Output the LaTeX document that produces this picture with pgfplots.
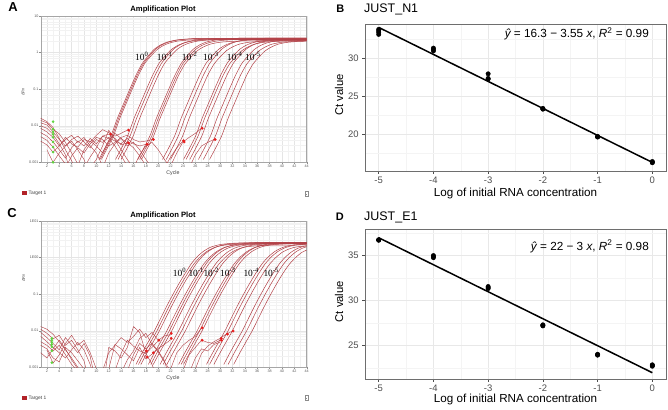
\documentclass[border=0pt]{standalone}
\usepackage{pgfplots}
\pgfplotsset{compat=1.18}
\usepackage{fontspec}
\setmainfont{Liberation Sans}
\newfontfamily\seriffont{Liberation Serif}
\definecolor{ampred}{RGB}{178,64,70}
\definecolor{mred}{RGB}{232,28,28}
\definecolor{mgreen}{RGB}{92,212,60}
\definecolor{legred}{RGB}{178,34,40}
\definecolor{ggborder}{RGB}{110,110,110}
\definecolor{gggrid}{RGB}{232,232,232}
\definecolor{ggminor}{RGB}{244,244,244}
\definecolor{ggtick}{RGB}{77,77,77}
\tikzset{
  amp/.style={draw=ampred, line width=0.5bp, smooth, tension=0.4},
  noise/.style={draw=ampred, line width=0.42bp},
}
\begin{document}
\begin{tikzpicture}
\useasboundingbox (0bp,0bp) rectangle (668bp,410bp);
%================ Panel A =================
\begin{axis}[ymode=log, at={(40.7bp,247.7bp)}, anchor=south west,
    scale only axis, width=266bp, height=146.3bp,
    xmin=1, xmax=44, ymin=0.001, ymax=10,
    xtick={2,4,...,44}, minor xtick={1,3,...,43},
    ytick={0.001,0.01,0.1,1,10}, yticklabels={0.001,0.01,0.1,1,10},
    minor ytick={0.002,0.003,0.004,0.005,0.006,0.007,0.008,0.009,0.02,0.03,0.04,0.05,0.06,0.07,0.08,0.09,0.2,0.3,0.4,0.5,0.6,0.7,0.8,0.9,2,3,4,5,6,7,8,9},
    grid=both, major grid style={black!10, line width=0.35bp},
    minor grid style={black!5, line width=0.3bp},
    axis line style={black!35, line width=0.4bp},
    major tick length=1.3bp, minor tick length=0bp, tick align=outside, tick pos=left,
    tick style={black!45, line width=0.3bp},
    tick label style={font=\fontsize{3.7}{4}\selectfont, text=black!65, inner sep=0.8bp},
    /pgf/number format/assume math mode=true, no markers]
% noise
\addplot[noise] coordinates {(1,0.016)(2,0.013)(3,0.009)(4,0.0045)(5,0.0022)(6,0.0011)(6.5,0.0007)};
\addplot[noise] coordinates {(1,0.014)(2,0.012)(3,0.008)(4,0.006)(5,0.0035)(6,0.0018)(7,0.0009)(7.4,0.0007)};
\addplot[noise] coordinates {(1,0.012)(2,0.0105)(3,0.0068)(4,0.0042)(5,0.0028)(6,0.0038)(7,0.0022)(8,0.0012)(8.5,0.0007)};
\addplot[noise] coordinates {(1,0.010)(2,0.0085)(3,0.0058)(4,0.0032)(5,0.0016)(5.6,0.0007)};
\addplot[noise] coordinates {(1,0.0085)(2,0.0068)(3,0.0048)(4,0.0028)(5,0.0042)(6,0.0055)(7,0.0035)(8,0.0048)(9,0.0028)(10,0.0018)(11,0.0008)};
\addplot[noise] coordinates {(1,0.0065)(2,0.0052)(3,0.0036)(4,0.0022)(5,0.0013)(6,0.0025)(7,0.0038)(8,0.0028)(9,0.0045)(10,0.0032)(11,0.0052)(12,0.0059)(13,0.0045)(14,0.003)(15,0.0034)};
\addplot[noise] coordinates {(1,0.005)(2,0.004)(3,0.0026)(4,0.0015)(5,0.0009)(5.5,0.0007)};
\addplot[noise] coordinates {(1,0.0038)(2,0.003)(3,0.0019)(4,0.0028)(5,0.0048)(6,0.0032)(7,0.0026)(8,0.0042)(9,0.0036)(10,0.0055)(11,0.0078)(12,0.0065)(13,0.0052)(14,0.0062)(15,0.0076)};
\addplot[noise] coordinates {(2,0.0022)(3,0.001)(4,0.0018)(5,0.0028)(6,0.0042)(7,0.0052)(8,0.0036)(9,0.0025)(10,0.0042)(11,0.0035)(12,0.0048)(13,0.0038)(14,0.0032)(15,0.0045)(16,0.0032)(17,0.0028)(18,0.0031)};
\addplot[noise] coordinates {(5,0.0007)(6,0.0015)(7,0.0025)(8,0.0018)(9,0.0032)(10,0.0048)(11,0.0042)(12,0.0028)(13,0.0035)(14,0.0048)(15,0.0055)(16,0.0042)(17,0.0036)(18,0.0038)(19,0.0042)};
\addplot[noise] coordinates {(7,0.0008)(8,0.0022)(9,0.0038)(10,0.0028)(11,0.0018)(12,0.0038)(13,0.0062)(14,0.0045)(15,0.0034)(16,0.0025)(17,0.0015)(18,0.0008)};
\addplot[noise] coordinates {(8,0.0007)(9,0.0014)(10,0.0025)(11,0.0052)(12,0.0045)(13,0.0028)(14,0.0015)(15,0.0008)};
\addplot[noise] coordinates {(9,0.0007)(10,0.0012)(11,0.0028)(12,0.0075)(13,0.0042)(14,0.0022)(15,0.0012)(16,0.0007)};
\addplot[noise] coordinates {(11,0.0007)(12,0.0018)(13,0.0032)(14,0.0045)(15,0.0028)(16,0.0035)(17,0.0022)(18,0.0012)(19,0.0007)};
\addplot[noise] coordinates {(16,0.0007)(17,0.0016)(18,0.0028)(19,0.0035)(20,0.0022)(21,0.0012)(22,0.0007)};
\addplot[noise] coordinates {(21,0.0007)(22,0.0014)(23,0.0025)(24,0.0038)};
\addplot[noise] coordinates {(22,0.0008)(23,0.0018)(24,0.0036)(25,0.0048)(26,0.0062)(27,0.0085)};
\addplot[noise] coordinates {(25,0.0007)(26,0.0016)(27,0.0028)(28,0.0035)(29,0.0042)};
% amplification curves
\addplot[amp] coordinates {(10.4,0.0012)(11.4,0.0025)(12.4,0.0055)(13.4,0.016)(14.4,0.04)(15.4,0.1)(16.4,0.24)(17.4,0.5)(18.4,0.82)(19.4,1.25)(20.4,1.62)(21.4,1.92)(22.9,2.2)(24.9,2.36)(27.9,2.45)(44,2.48)};
\addplot[amp] coordinates {(10.6,0.0012)(11.6,0.0025)(12.6,0.0055)(13.6,0.016)(14.6,0.04)(15.6,0.1)(16.6,0.24)(17.6,0.5)(18.6,0.82)(19.6,1.25)(20.6,1.62)(21.6,1.92)(23.1,2.2)(25.1,2.36)(28.1,2.45)(44,2.48)};
\addplot[amp] coordinates {(10.8,0.0012)(11.8,0.0025)(12.8,0.0055)(13.8,0.016)(14.8,0.04)(15.8,0.1)(16.8,0.24)(17.8,0.5)(18.8,0.8)(19.8,1.2)(20.8,1.55)(21.8,1.82)(23.3,2.08)(25.3,2.22)(28.3,2.3)(44,2.33)};
\addplot[amp] coordinates {(13.1,0.0012)(14.1,0.0025)(15.1,0.0055)(16.1,0.016)(17.1,0.04)(18.1,0.1)(19.1,0.24)(20.1,0.5)(21.1,0.8)(22.1,1.2)(23.1,1.55)(24.1,1.82)(25.6,2.08)(27.6,2.22)(30.6,2.3)(44,2.32)};
\addplot[amp] coordinates {(13.5,0.0012)(14.5,0.0025)(15.5,0.0055)(16.5,0.016)(17.5,0.04)(18.5,0.1)(19.5,0.24)(20.5,0.5)(21.5,0.82)(22.5,1.25)(23.5,1.62)(24.5,1.92)(26,2.2)(28,2.36)(31,2.45)(44,2.47)};
\addplot[amp] coordinates {(14,0.0012)(15,0.0025)(16,0.0055)(17,0.016)(18,0.04)(19,0.1)(20,0.24)(21,0.5)(22,0.8)(23,1.2)(24,1.55)(25,1.82)(26.5,2.08)(28.5,2.22)(31.5,2.3)(44,2.32)};
\addplot[amp] coordinates {(16.7,0.0012)(17.7,0.0025)(18.7,0.0055)(19.7,0.016)(20.7,0.04)(21.7,0.1)(22.7,0.24)(23.7,0.5)(24.7,0.82)(25.7,1.25)(26.7,1.62)(27.7,1.92)(29.2,2.2)(31.2,2.36)(34.2,2.45)(44,2.46)};
\addplot[amp] coordinates {(17,0.0012)(18,0.0025)(19,0.0055)(20,0.016)(21,0.04)(22,0.1)(23,0.24)(24,0.5)(25,0.8)(26,1.2)(27,1.55)(28,1.82)(29.5,2.08)(31.5,2.22)(34.5,2.3)(44,2.31)};
\addplot[amp] coordinates {(17.3,0.0012)(18.3,0.0025)(19.3,0.0055)(20.3,0.016)(21.3,0.04)(22.3,0.1)(23.3,0.24)(24.3,0.48)(25.3,0.76)(26.3,1.12)(27.3,1.42)(28.3,1.68)(29.8,1.9)(31.8,2.02)(34.8,2.1)(44,2.12)};
\addplot[amp] coordinates {(20.7,0.0012)(21.7,0.0025)(22.7,0.0055)(23.7,0.016)(24.7,0.04)(25.7,0.1)(26.7,0.24)(27.7,0.5)(28.7,0.8)(29.7,1.2)(30.7,1.55)(31.7,1.82)(33.2,2.08)(35.2,2.22)(38.2,2.3)(44,2.31)};
\addplot[amp] coordinates {(21.3,0.0012)(22.3,0.0025)(23.3,0.0055)(24.3,0.016)(25.3,0.04)(26.3,0.1)(27.3,0.24)(28.3,0.5)(29.3,0.82)(30.3,1.25)(31.3,1.62)(32.3,1.92)(33.8,2.2)(35.8,2.36)(38.8,2.45)(44,2.46)};
\addplot[amp] coordinates {(22,0.0012)(23,0.0025)(24,0.0055)(25,0.016)(26,0.04)(27,0.1)(28,0.24)(29,0.48)(30,0.76)(31,1.12)(32,1.42)(33,1.68)(34.5,1.9)(36.5,2.02)(39.5,2.1)(44,2.11)};
\addplot[amp] coordinates {(24.1,0.0012)(25.1,0.0025)(26.1,0.0055)(27.1,0.016)(28.1,0.04)(29.1,0.1)(30.1,0.24)(31.1,0.5)(32.1,0.8)(33.1,1.2)(34.1,1.55)(35.1,1.82)(36.6,2.08)(38.6,2.22)(41.6,2.3)(44,2.31)};
\addplot[amp] coordinates {(24.5,0.0012)(25.5,0.0025)(26.5,0.0055)(27.5,0.016)(28.5,0.04)(29.5,0.1)(30.5,0.24)(31.5,0.48)(32.5,0.76)(33.5,1.12)(34.5,1.42)(35.5,1.68)(37,1.9)(39,2.02)(42,2.1)(44,2.11)};
\addplot[amp] coordinates {(25.1,0.0012)(26.1,0.0025)(27.1,0.0055)(28.1,0.016)(29.1,0.04)(30.1,0.1)(31.1,0.24)(32.1,0.5)(33.1,0.8)(34.1,1.2)(35.1,1.55)(36.1,1.82)(37.6,2.08)(39.6,2.22)(42.6,2.3)(44,2.31)};
\addplot[amp] coordinates {(26.5,0.0012)(27.5,0.0025)(28.5,0.0055)(29.5,0.016)(30.5,0.04)(31.5,0.1)(32.5,0.24)(33.5,0.5)(34.5,0.8)(35.5,1.2)(36.5,1.55)(37.5,1.82)(39,2.08)(41,2.22)(44,2.3)};
\addplot[amp] coordinates {(27.3,0.0012)(28.3,0.0025)(29.3,0.0055)(30.3,0.016)(31.3,0.04)(32.3,0.1)(33.3,0.24)(34.3,0.48)(35.3,0.76)(36.3,1.12)(37.3,1.42)(38.3,1.68)(39.8,1.9)(41.8,2.02)(44,2.08)};
\addplot[amp] coordinates {(28.3,0.0012)(29.3,0.0025)(30.3,0.0055)(31.3,0.016)(32.3,0.04)(33.3,0.1)(34.3,0.24)(35.3,0.48)(36.3,0.76)(37.3,1.12)(38.3,1.42)(39.3,1.68)(40.8,1.9)(42.8,2.02)(44,2.05)};
% markers
\addplot[only marks, mark=square*, mark size=1.1bp, mgreen] coordinates {(3,0.0129)(3,0.0080)(3,0.0068)(3,0.0058)(3,0.0048)(3,0.0036)(3,0.0026)(3,0.0019)(3,0.001)};
\addplot[only marks, mark=square*, mark size=1.2bp, mred] coordinates {(12.3,0.0059)(15.2,0.0076)(15.2,0.0034)(18.2,0.0031)(19.2,0.0042)(24.1,0.0039)(24.2,0.0036)(27.1,0.0085)(29.2,0.0042)};
\end{axis}
%================ Panel C =================
\begin{axis}[ymode=log, at={(40.7bp,42.7bp)}, anchor=south west,
    scale only axis, width=266bp, height=146.3bp,
    xmin=1, xmax=44, ymin=0.001, ymax=10,
    xtick={2,4,...,44}, minor xtick={1,3,...,43},
    ytick={0.001,0.01,0.1,1,10}, yticklabels={0.001,0.01,0.1,1E00,1E01},
    minor ytick={0.002,0.003,0.004,0.005,0.006,0.007,0.008,0.009,0.02,0.03,0.04,0.05,0.06,0.07,0.08,0.09,0.2,0.3,0.4,0.5,0.6,0.7,0.8,0.9,2,3,4,5,6,7,8,9},
    grid=both, major grid style={black!10, line width=0.35bp},
    minor grid style={black!5, line width=0.3bp},
    axis line style={black!35, line width=0.4bp},
    major tick length=1.3bp, minor tick length=0bp, tick align=outside, tick pos=left,
    tick style={black!45, line width=0.3bp},
    tick label style={font=\fontsize{3.7}{4}\selectfont, text=black!65, inner sep=0.8bp},
    /pgf/number format/assume math mode=true, no markers]
\addplot[noise] coordinates {(1,0.013)(2,0.011)(3,0.008)(4,0.005)(5,0.003)(6,0.0018)(7,0.001)(7.5,0.0007)};
\addplot[noise] coordinates {(1,0.011)(2,0.0085)(3,0.006)(4,0.0075)(5,0.004)(6,0.0055)(7,0.003)(8,0.0015)(8.5,0.0007)};
\addplot[noise] coordinates {(1,0.009)(2,0.0065)(3,0.0045)(4,0.003)(5,0.0065)(6,0.004)(7,0.0025)(8,0.0045)(9,0.002)(9.5,0.0008)};
\addplot[noise] coordinates {(1,0.007)(2,0.005)(3,0.0035)(4,0.0025)(5,0.0018)(6,0.003)(7,0.0048)(8,0.003)(9,0.0012)(9.4,0.0007)};
\addplot[noise] coordinates {(1,0.005)(2,0.004)(3,0.0028)(4,0.004)(5,0.0022)(6,0.0012)(7,0.0008)};
\addplot[noise] coordinates {(1,0.004)(2,0.0032)(3,0.0018)(4,0.0014)(5,0.0035)(6,0.0025)(7,0.0015)(8,0.0009)};
\addplot[noise] coordinates {(2,0.003)(3,0.0013)(4,0.0022)(5,0.0045)(6,0.0075)(7,0.004)(8,0.0055)(9,0.0025)(10,0.0009)};
\addplot[noise] coordinates {(1,0.0025)(2,0.0018)(3,0.0032)(4,0.0055)(5,0.0032)(6,0.0016)(7,0.0009)};
\addplot[noise] coordinates {(11,0.0008)(12,0.0025)(13,0.004)(14,0.0065)(15,0.0048)(16,0.007)(17,0.011)(18,0.0065)(19,0.009)(20,0.0055)(21,0.0072)(22,0.0078)};
\addplot[noise] coordinates {(11.5,0.0009)(12,0.0035)(13,0.0028)(14,0.0018)(15,0.0035)(16,0.013)(17,0.009)(18,0.0024)(19,0.0035)(20,0.0053)};
\addplot[noise] coordinates {(12,0.0009)(13,0.0042)(14,0.0032)(15,0.0022)(16,0.0015)(17,0.0035)(18,0.0017)(19,0.0023)(20,0.0033)(21,0.0042)(22,0.0057)};
\addplot[noise] coordinates {(13,0.0008)(14,0.0024)(15,0.0055)(16,0.0038)(17,0.0028)(18,0.0024)(19,0.0012)(19.5,0.0007)};
\addplot[noise] coordinates {(15,0.0008)(16,0.0022)(17,0.0045)(18,0.0032)(19,0.0045)(20,0.0028)(21,0.0015)(21.5,0.0008)};
\addplot[noise] coordinates {(14,0.0007)(15,0.0016)(16,0.0028)(17,0.0062)(18,0.0085)(19,0.0042)(20,0.0026)(21,0.0014)(22,0.0008)};
\addplot[noise] coordinates {(22,0.0009)(23,0.0025)(24,0.004)(25,0.0055)(26,0.007)(27,0.012)};
\addplot[noise] coordinates {(24,0.0008)(25,0.0022)(26,0.0035)(27,0.0055)(28,0.0048)(29,0.0045)(30,0.0055)};
\addplot[noise] coordinates {(26,0.0009)(27,0.0024)(28,0.0038)(29,0.005)(30,0.0062)(31,0.0081)(32,0.0098)};
\addplot[noise] coordinates {(25,0.0007)(26,0.0018)(27,0.0032)(28,0.0028)(29,0.0042)(30,0.0048)};
% curves
\addplot[amp] coordinates {(16.4,0.0012)(17.4,0.0025)(18.4,0.005)(19.4,0.01)(20.4,0.022)(21.4,0.048)(22.4,0.1)(23.4,0.2)(24.4,0.38)(25.4,0.7)(26.4,1.1)(27.4,1.52)(28.4,1.9)(29.4,2.15)(30.4,2.32)(32.4,2.48)(35.4,2.55)(44,2.57)};
\addplot[amp] coordinates {(16.8,0.0012)(17.8,0.0025)(18.8,0.005)(19.8,0.01)(20.8,0.022)(21.8,0.048)(22.8,0.1)(23.8,0.2)(24.8,0.38)(25.8,0.68)(26.8,1.05)(27.8,1.45)(28.8,1.8)(29.8,2.05)(30.8,2.2)(32.8,2.35)(35.8,2.42)(44,2.44)};
\addplot[amp] coordinates {(17.2,0.0012)(18.2,0.0025)(19.2,0.005)(20.2,0.01)(21.2,0.022)(22.2,0.048)(23.2,0.1)(24.2,0.2)(25.2,0.38)(26.2,0.7)(27.2,1.1)(28.2,1.52)(29.2,1.9)(30.2,2.15)(31.2,2.32)(33.2,2.48)(36.2,2.55)(44,2.57)};
\addplot[amp] coordinates {(18.4,0.0012)(19.4,0.0025)(20.4,0.005)(21.4,0.01)(22.4,0.022)(23.4,0.048)(24.4,0.1)(25.4,0.2)(26.4,0.38)(27.4,0.68)(28.4,1.05)(29.4,1.45)(30.4,1.8)(31.4,2.05)(32.4,2.2)(34.4,2.35)(37.4,2.42)(44,2.44)};
\addplot[amp] coordinates {(18.8,0.0012)(19.8,0.0025)(20.8,0.005)(21.8,0.01)(22.8,0.022)(23.8,0.048)(24.8,0.1)(25.8,0.2)(26.8,0.38)(27.8,0.7)(28.8,1.1)(29.8,1.52)(30.8,1.9)(31.8,2.15)(32.8,2.32)(34.8,2.48)(37.8,2.55)(44,2.56)};
\addplot[amp] coordinates {(19.2,0.0012)(20.2,0.0025)(21.2,0.005)(22.2,0.01)(23.2,0.022)(24.2,0.048)(25.2,0.1)(26.2,0.2)(27.2,0.38)(28.2,0.68)(29.2,1.05)(30.2,1.45)(31.2,1.8)(32.2,2.05)(33.2,2.2)(35.2,2.35)(38.2,2.42)(44,2.43)};
\addplot[amp] coordinates {(20.3,0.0012)(21.3,0.0025)(22.3,0.005)(23.3,0.01)(24.3,0.022)(25.3,0.048)(26.3,0.1)(27.3,0.2)(28.3,0.38)(29.3,0.68)(30.3,1.05)(31.3,1.45)(32.3,1.8)(33.3,2.05)(34.3,2.2)(36.3,2.35)(39.3,2.42)(44,2.43)};
\addplot[amp] coordinates {(20.8,0.0012)(21.8,0.0025)(22.8,0.005)(23.8,0.01)(24.8,0.022)(25.8,0.048)(26.8,0.1)(27.8,0.2)(28.8,0.38)(29.8,0.66)(30.8,1.0)(31.8,1.38)(32.8,1.68)(33.8,1.9)(34.8,2.02)(36.8,2.15)(39.8,2.2)(44,2.21)};
\addplot[amp] coordinates {(21.4,0.0012)(22.4,0.0025)(23.4,0.005)(24.4,0.01)(25.4,0.022)(26.4,0.048)(27.4,0.1)(28.4,0.2)(29.4,0.38)(30.4,0.68)(31.4,1.05)(32.4,1.45)(33.4,1.8)(34.4,2.05)(35.4,2.2)(37.4,2.35)(40.4,2.42)(44,2.43)};
\addplot[amp] coordinates {(23.3,0.0012)(24.3,0.0025)(25.3,0.005)(26.3,0.01)(27.3,0.022)(28.3,0.048)(29.3,0.1)(30.3,0.2)(31.3,0.38)(32.3,0.68)(33.3,1.05)(34.3,1.45)(35.3,1.8)(36.3,2.05)(37.3,2.2)(39.3,2.35)(42.3,2.42)(44,2.43)};
\addplot[amp] coordinates {(23.7,0.0012)(24.7,0.0025)(25.7,0.005)(26.7,0.01)(27.7,0.022)(28.7,0.048)(29.7,0.1)(30.7,0.2)(31.7,0.38)(32.7,0.7)(33.7,1.1)(34.7,1.52)(35.7,1.9)(36.7,2.15)(37.7,2.32)(39.7,2.48)(42.7,2.55)(44,2.56)};
\addplot[amp] coordinates {(24.1,0.0012)(25.1,0.0025)(26.1,0.005)(27.1,0.01)(28.1,0.022)(29.1,0.048)(30.1,0.1)(31.1,0.2)(32.1,0.38)(33.1,0.68)(34.1,1.05)(35.1,1.45)(36.1,1.8)(37.1,2.05)(38.1,2.2)(40.1,2.35)(43.1,2.42)(44,2.42)};
\addplot[amp] coordinates {(27.8,0.0012)(28.8,0.0025)(29.8,0.005)(30.8,0.01)(31.8,0.022)(32.8,0.048)(33.8,0.1)(34.8,0.2)(35.8,0.38)(36.8,0.68)(37.8,1.05)(38.8,1.45)(39.8,1.8)(40.8,2.05)(41.8,2.2)(43.8,2.35)(44,2.35)};
\addplot[amp] coordinates {(28.3,0.0012)(29.3,0.0025)(30.3,0.005)(31.3,0.01)(32.3,0.022)(33.3,0.048)(34.3,0.1)(35.3,0.2)(36.3,0.38)(37.3,0.68)(38.3,1.05)(39.3,1.45)(40.3,1.8)(41.3,2.05)(42.3,2.2)(44,2.33)};
\addplot[amp] coordinates {(29,0.0012)(30,0.0025)(31,0.005)(32,0.01)(33,0.022)(34,0.048)(35,0.1)(36,0.2)(37,0.38)(38,0.66)(39,1.0)(40,1.38)(41,1.68)(42,1.9)(43,2.02)(44,2.08)};
\addplot[amp] coordinates {(30.6,0.0012)(31.6,0.0025)(32.6,0.005)(33.6,0.01)(34.6,0.022)(35.6,0.048)(36.6,0.1)(37.6,0.2)(38.6,0.38)(39.6,0.68)(40.6,1.05)(41.6,1.45)(42.6,1.8)(43.6,2.05)(44,2.1)};
\addplot[amp] coordinates {(31.3,0.0012)(32.3,0.0025)(33.3,0.005)(34.3,0.01)(35.3,0.022)(36.3,0.048)(37.3,0.1)(38.3,0.2)(39.3,0.38)(40.3,0.68)(41.3,1.05)(42.3,1.45)(43.3,1.8)(44,1.98)};
\addplot[amp] coordinates {(32.2,0.0012)(33.2,0.0025)(34.2,0.005)(35.2,0.01)(36.2,0.022)(37.2,0.048)(38.2,0.1)(39.2,0.2)(40.2,0.38)(41.2,0.66)(42.2,1.0)(43.2,1.38)(44,1.6)};
\addplot[only marks, mark=square*, mark size=1.1bp, mgreen] coordinates {(2.8,0.0062)(2.8,0.0055)(2.8,0.0048)(2.8,0.0042)(2.8,0.0036)(2.8,0.0028)(2.8,0.00134)};
\addplot[only marks, mark=square*, mark size=1.2bp, mred] coordinates {(18.1,0.0028)(18.2,0.0019)(19.2,0.0025)(20.1,0.0055)(22.1,0.0085)(22.1,0.0062)(27.1,0.012)(27.1,0.0055)(30.2,0.0062)(30.2,0.0055)(31.2,0.0081)(32.1,0.0098)};
\end{axis}
%================ Panel B =================
\begin{axis}[at={(365bp,239bp)}, anchor=south west, scale only axis, width=301bp, height=147bp,
    xmin=-5.25, xmax=0.25, ymin=15.17, ymax=34.5,
    xtick={-5,-4,-3,-2,-1,0}, xticklabels={-5,-4,-3,-2,-1,0},
    minor xtick={-4.5,-3.5,-2.5,-1.5,-0.5},
    ytick={20,25,30}, yticklabels={20,25,30}, minor ytick={17.5,22.5,27.5,32.5},
    grid=both, major grid style={gggrid, line width=0.6bp},
    minor grid style={ggminor, line width=0.35bp},
    axis line style={ggborder, line width=0.6bp},
    tick align=outside, tick pos=left, major tick length=2.8bp, minor tick length=0bp,
    tick style={ggtick, line width=0.5bp},
    tick label style={font=\fontsize{9.5}{11}\selectfont, text=ggtick}]
\addplot[black, line width=1.5bp, no markers] coordinates {(-5,34.05)(0,16.3)};
\addplot[only marks, mark=*, mark size=2.2bp, black] coordinates {
(-5,33.13)(-5,33.4)(-5,33.6)(-5,33.79)
(-4,30.95)(-4,31.15)(-4,31.33)
(-3,27.25)(-3,27.35)(-3,27.95)
(-2,23.3)(-2,23.35)(-2,23.4)
(-1,19.63)(-1,19.67)(-1,19.72)
(0,16.25)(0,16.33)(0,16.42)};
\end{axis}
%================ Panel D =================
\begin{axis}[at={(365bp,31bp)}, anchor=south west, scale only axis, width=301bp, height=150bp,
    xmin=-5.25, xmax=0.25, ymin=21.3, ymax=37.97,
    xtick={-5,-4,-3,-2,-1,0}, xticklabels={-5,-4,-3,-2,-1,0},
    minor xtick={-4.5,-3.5,-2.5,-1.5,-0.5},
    ytick={25,30,35}, yticklabels={25,30,35}, minor ytick={22.5,27.5,32.5,37.5},
    grid=both, major grid style={gggrid, line width=0.6bp},
    minor grid style={ggminor, line width=0.35bp},
    axis line style={ggborder, line width=0.6bp},
    tick align=outside, tick pos=left, major tick length=2.8bp, minor tick length=0bp,
    tick style={ggtick, line width=0.5bp},
    tick label style={font=\fontsize{9.5}{11}\selectfont, text=ggtick}]
\addplot[black, line width=1.5bp, no markers] coordinates {(-5,37)(0,22)};
\addplot[only marks, mark=*, mark size=2.2bp, black] coordinates {
(-5,36.72)(-5,36.75)(-5,36.78)
(-4,34.78)(-4,34.9)(-4,35.02)
(-3,31.35)(-3,31.45)(-3,31.58)
(-2,27.2)(-2,27.25)(-2,27.32)
(-1,23.95)(-1,24.0)(-1,24.05)
(0,22.72)(0,22.8)(0,22.88)};
\end{axis}
%================ Texts =================
\begin{scope}[x=1bp,y=1bp]
\node[anchor=base, font=\fontsize{13}{15}\selectfont\bfseries] at (13,398.3) {A};
\node[anchor=base, font=\fontsize{7.7}{9}\selectfont\bfseries] at (163,398) {Amplification Plot};
\node[rotate=90, font=\fontsize{4}{5}\selectfont, text=black!70] at (23,318) {ΔRn};
\node[font=\fontsize{5.3}{6}\selectfont, text=black!75] at (173,236.7) {Cycle};
\fill[legred] (21.7,215) rectangle (26.7,219.3);
\node[anchor=west, inner sep=0pt, font=\fontsize{4.9}{6}\selectfont, text=black!75] at (28.5,217) {Target 1};
\draw[black!45, line width=0.4bp] (305.3,213.7) rectangle (307.7,218.5);
\draw[black!45, line width=0.3bp] (305.8,216.1) -- (307.2,216.1);
\begin{scope}[font=\seriffont\fontsize{9.5}{11}\selectfont]
\node[anchor=base west, inner sep=0pt] at (135,349.3) {10\textsuperscript{0}};
\node[anchor=base west, inner sep=0pt] at (156.7,349.3) {10\textsuperscript{-1}};
\node[anchor=base west, inner sep=0pt] at (181.7,349.3) {10\textsuperscript{-2}};
\node[anchor=base west, inner sep=0pt] at (203,349.3) {10\textsuperscript{-3}};
\node[anchor=base west, inner sep=0pt] at (226.7,349.3) {10\textsuperscript{-4}};
\node[anchor=base west, inner sep=0pt] at (245,349.3) {10\textsuperscript{-5}};
\end{scope}
\node[anchor=base, font=\fontsize{13}{15}\selectfont\bfseries] at (12,192.7) {C};
\node[anchor=base, font=\fontsize{7.7}{9}\selectfont\bfseries] at (163,193) {Amplification Plot};
\node[rotate=90, font=\fontsize{4}{5}\selectfont, text=black!70] at (23.5,132) {ΔRn};
\node[font=\fontsize{5.3}{6}\selectfont, text=black!75] at (173,31.7) {Cycle};
\fill[legred] (21.7,10) rectangle (26.7,14.3);
\node[anchor=west, inner sep=0pt, font=\fontsize{4.9}{6}\selectfont, text=black!75] at (28.5,12) {Target 1};
\draw[black!45, line width=0.4bp] (305.3,9.7) rectangle (307.7,14.5);
\draw[black!45, line width=0.3bp] (305.8,12.1) -- (307.2,12.1);
\begin{scope}[font=\seriffont\fontsize{9.5}{11}\selectfont]
\node[anchor=base west, inner sep=0pt] at (172.7,133.3) {10\textsuperscript{0}};
\node[anchor=base west, inner sep=0pt] at (188.3,133.3) {10\textsuperscript{-1}};
\node[anchor=base west, inner sep=0pt] at (203.3,133.3) {10\textsuperscript{-2}};
\node[anchor=base west, inner sep=0pt] at (220,133.3) {10\textsuperscript{-3}};
\node[anchor=base west, inner sep=0pt] at (243.3,133.3) {10\textsuperscript{-4}};
\node[anchor=base west, inner sep=0pt] at (263.3,133.3) {10\textsuperscript{-5}};
\end{scope}
\node[anchor=base, font=\fontsize{11}{13}\selectfont\bfseries] at (340.3,397.7) {B};
\node[anchor=base west, inner sep=0pt, font=\fontsize{12.5}{14}\selectfont] at (364,397.7) {JUST\_N1};
\node[anchor=base east, inner sep=0pt, font=\fontsize{11.8}{14}\selectfont] at (649,372.3) {{\itshape ŷ} = 16.3 − 3.55 {\itshape x}, {\itshape R}\textsuperscript{2} = 0.99};
\node[rotate=90, font=\fontsize{11.3}{13}\selectfont] at (339,315) {Ct value};
\node[font=\fontsize{11.7}{14}\selectfont] at (515.5,216.7) {Log of initial RNA concentration};
\node[anchor=base, font=\fontsize{11}{13}\selectfont\bfseries] at (339.8,190) {D};
\node[anchor=base west, inner sep=0pt, font=\fontsize{12.5}{14}\selectfont] at (364,190) {JUST\_E1};
\node[anchor=base east, inner sep=0pt, font=\fontsize{11.8}{14}\selectfont] at (649,160) {{\itshape ŷ} = 22 − 3 {\itshape x}, {\itshape R}\textsuperscript{2} = 0.98};
\node[rotate=90, font=\fontsize{11.3}{13}\selectfont] at (339,108.3) {Ct value};
\node[font=\fontsize{11.7}{14}\selectfont] at (515.5,10.7) {Log of initial RNA concentration};
\end{scope}
\end{tikzpicture}
\end{document}
